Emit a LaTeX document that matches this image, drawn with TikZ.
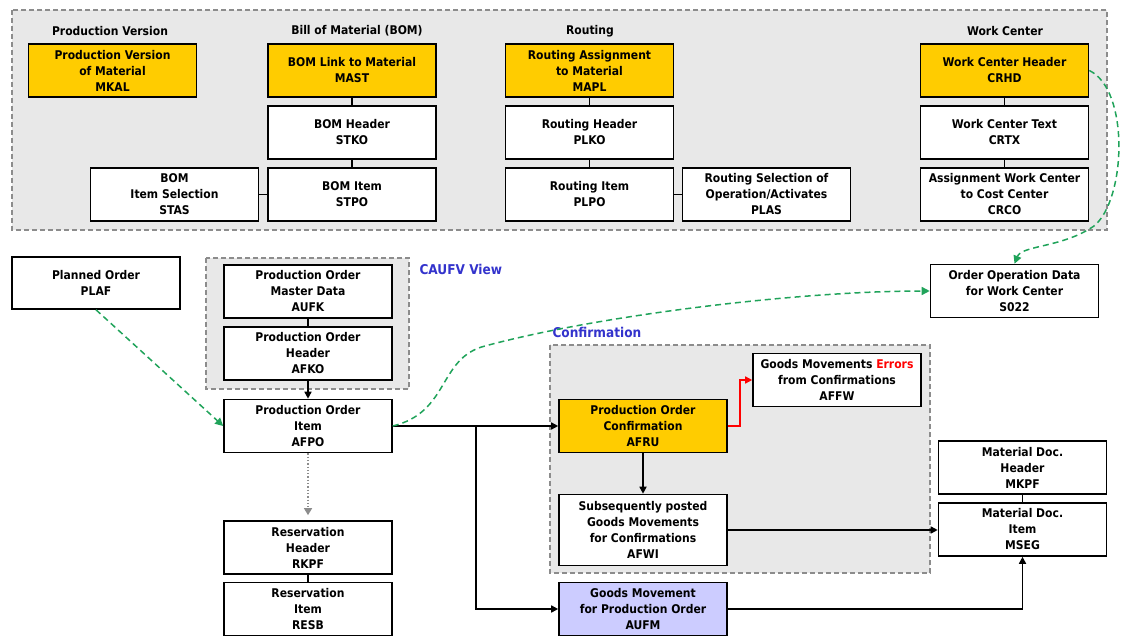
\documentclass[tikz,border=0pt]{standalone}
\usepackage{fontspec}
\setmainfont{DejaVu Sans}[FakeStretch=0.9]
\usetikzlibrary{arrows.meta}

\definecolor{keyyellow}{HTML}{FFCC00}
\definecolor{panelgray}{HTML}{E8E8E8}
\definecolor{viewblue}{HTML}{3333CC}
\definecolor{linkgreen}{HTML}{20A35A}
\definecolor{movelilac}{HTML}{CCCCFF}

\tikzset{
	tbl/.style={draw=black, line width=1.6pt, fill=white, align=center, inner sep=0pt,
		minimum width=168pt, minimum height=53pt, font=\bfseries\fontsize{12}{16}\selectfont},
	keytbl/.style={tbl, fill=keyyellow},
	panel/.style={draw=black!45, dash pattern=on 5pt off 3pt, line width=1.1pt, fill=panelgray},
	heading/.style={font=\bfseries\fontsize{12}{14}\selectfont},
	viewlabel/.style={anchor=west, text=viewblue, font=\bfseries\fontsize{13.5}{16}\selectfont},
	link/.style={line width=1.6pt},
	flow/.style={line width=1.6pt, -{Triangle[length=7pt,width=7pt]}},
	errflow/.style={flow, draw=red, -{Triangle[length=7pt,width=7pt,fill=red]}},
	resvflow/.style={line width=1.3pt, dotted, draw=black!45, shorten >=5pt,
		-{Triangle[length=7pt,width=8pt,fill=black!45]}},
	datalink/.style={line width=1.5pt, dash pattern=on 6pt off 4pt, draw=linkgreen,
		-{Triangle[length=8pt,width=8pt,fill=linkgreen]}}
}

\begin{document}
\begin{tikzpicture}[x=1pt, y=-1pt]
	\useasboundingbox (0,0) rectangle (1130,636);

	% master data
	\draw[panel] (12,10) rectangle (1107,230);
	\node[heading] (hpv) at (110,31) {Production Version};
	\node[heading] (hbom) at (357,31) {Bill of Material (BOM)};
	\node[heading] (hrt) at (590,31) {Routing};
	\node[heading] (hwc) at (1005,31) {Work Center};

	\node[keytbl] (mkal) at (112.5,70.5) {Production Version\\of Material\\MKAL};
	\node[keytbl] (mast) at (352,70.5) {BOM Link to Material\\MAST};
	\node[keytbl] (mapl) at (589.5,70.5) {Routing Assignment\\to Material\\MAPL};
	\node[keytbl] (crhd) at (1004.5,70.5) {Work Center Header\\CRHD};
	\node[tbl] (stko) at (352,132.5) {BOM Header\\STKO};
	\node[tbl] (plko) at (589.5,132.5) {Routing Header\\PLKO};
	\node[tbl] (crtx) at (1004.5,132.5) {Work Center Text\\CRTX};
	\node[tbl] (stas) at (174.5,194.5) {BOM\\Item Selection\\STAS};
	\node[tbl] (stpo) at (352,194.5) {BOM Item\\STPO};
	\node[tbl] (plpo) at (589.5,194.5) {Routing Item\\PLPO};
	\node[tbl] (plas) at (766.5,194.5) {Routing Selection of\\Operation/Activates\\PLAS};
	\node[tbl] (crco) at (1004.5,194.5) {Assignment Work Center\\to Cost Center\\CRCO};

	\draw[link] (mast) -- (stko) -- (stpo);
	\draw[link] (stas) -- (stpo);
	\draw[link] (mapl) -- (plko) -- (plpo) -- (plas);
	\draw[link] (crhd) -- (crtx) -- (crco);

	% order data
	\draw[panel] (206,258) rectangle (409,389);
	\node[viewlabel] (caufv) at (416,269) {CAUFV View};
	\draw[panel] (550,345) rectangle (930,573);
	\node[viewlabel] (conf) at (549,332) {Confirmation};

	\node[tbl, minimum height=52pt] (plaf) at (96,283) {Planned Order\\PLAF};
	\node[tbl] (aufk) at (308,291.5) {Production Order\\Master Data\\AUFK};
	\node[tbl] (afko) at (308,353.5) {Production Order\\Header\\AFKO};
	\node[tbl] (afpo) at (308,426) {Production Order\\Item\\AFPO};
	\node[tbl] (rkpf) at (308,547.5) {Reservation\\Header\\RKPF};
	\node[tbl] (resb) at (308,609) {Reservation\\Item\\RESB};
	\node[tbl] (s022) at (1014.5,291) {Order Operation Data\\for Work Center\\S022};
	\node[keytbl] (afru) at (643,426) {Production Order\\Confirmation\\AFRU};
	\node[tbl] (affw) at (837,380) {Goods Movements {\color{red}Errors}\\from Confirmations\\AFFW};
	\node[tbl, minimum height=71pt] (afwi) at (643,530) {Subsequently posted\\Goods Movements\\for Confirmations\\AFWI};
	\node[tbl, fill=movelilac] (aufm) at (643,609) {Goods Movement\\for Production Order\\AUFM};
	\node[tbl] (mkpf) at (1022.5,467.5) {Material Doc.\\Header\\MKPF};
	\node[tbl] (mseg) at (1022.5,529.5) {Material Doc.\\Item\\MSEG};

	\draw[link] (aufk) -- (afko);
	\draw[link] (mkpf) -- (mseg);
	\draw[flow] (afko) -- (afpo);
	\draw[resvflow] (afpo) -- (rkpf);
	\draw[link] (rkpf) -- (resb);
	\draw[flow] (afpo.east) -- (afpo.east -| afru.west);
	\coordinate (split) at (476,426);
	\draw[flow] (split) |- (aufm.west);
	\draw[flow] (afru) -- (afwi);
	\draw[errflow] (afru.east) -- ++(12,0) |- (affw.west);
	\draw[flow] (afwi.east) -- (afwi.east -| mseg.west);
	\draw[flow] (aufm.east) -| (mseg.south);

	\draw[datalink] (plaf.south) -- (afpo.west);
	\draw[datalink] (afpo.east) .. controls (450,412) and (438,358) .. (485,346)
		.. controls (600,315) and (800,291) .. (s022.west);
	\draw[datalink] (crhd.east) .. controls (1130,90) and (1126,200) .. (1094,226)
		.. controls (1062,248) and (1022,245) .. (s022.north);
\end{tikzpicture}
\end{document}
